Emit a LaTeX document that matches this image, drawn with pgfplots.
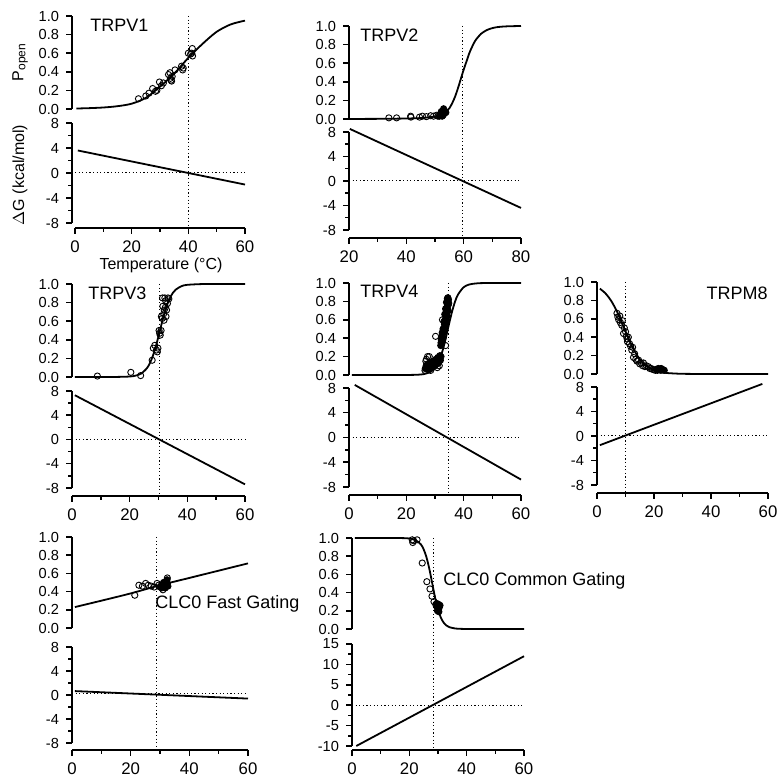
\documentclass[border=0pt]{standalone}
\usepackage{pgfplots}
\pgfplotsset{compat=1.18}
\usepackage{fontspec}
\setmainfont{Liberation Sans}
\setsansfont{Liberation Sans}
\newcommand{\yf}{\fontsize{7.3}{8}\selectfont}
\newcommand{\xf}{\fontsize{8.4}{9}\selectfont}
\newcommand{\tf}{\fontsize{9}{10}\selectfont}
\newcommand{\lf}{\fontsize{8}{9}\selectfont}
\pgfkeys{/pgf/number format/assume math mode=true}
\pgfplotsset{
  base/.style={scale only axis, clip=false, tick align=outside,
    major tick length=3pt, minor tick length=1.8pt,
    every tick/.append style={black, line width=0.75pt},
    axis line style={black, line width=0.85pt},
    /pgf/number format/assume math mode=true,
    yticklabel style={font=\yf},
    xticklabel style={font=\xf},
    xmin=0, xmax=60},
  ptop/.style={base, axis x line=none, axis y line*=left, xtick=\empty,
    ymin=0, ymax=1, ytick={0,0.2,0.4,0.6,0.8,1},
    yticklabel={\pgfmathprintnumber[fixed,fixed zerofill,precision=1,assume math mode=true]{\tick}}},
  pbot/.style={base, axis x line*=bottom, axis y line*=left,
    ymin=-8, ymax=8, ytick={-8,-4,0,4,8}, minor y tick num=1,
    xtick={0,20,40,60}, minor x tick num=1},
  crv/.style={black, line width=0.9pt, smooth, no markers},
  lin/.style={black, line width=0.9pt, no markers},
  dot/.style={black, line width=0.5pt, dash pattern=on 0.6pt off 1.2pt, no markers},
  opn/.style={only marks, mark=o, mark size=1.55pt, mark options={black, line width=0.45pt}},
  fil/.style={only marks, mark=*, mark size=1.55pt, mark options={black, fill=black, line width=0.45pt}},
}
\begin{document}
\begin{tikzpicture}
\useasboundingbox (0,0) rectangle (390pt,389.5pt);

% ================= TRPV1 =================
\begin{axis}[ptop, at={(37.5pt,335pt)}, anchor=south west, width=85pt, height=46.5pt, axis y line shift=1.5pt]
\addplot[opn] coordinates {(22.4,0.11)(25,0.14)(26.1,0.17)(27.4,0.22)(28.4,0.19)(28.9,0.2)(29.8,0.29)(30.5,0.25)(31.2,0.28)(33,0.37)(33.5,0.39)(33.9,0.31)(34.1,0.3)(34.3,0.35)(33.7,0.33)(35.3,0.42)(37.6,0.46)(38,0.42)(38.2,0.44)(40,0.6)(41.4,0.65)(41.5,0.57)(41.2,0.6)(40.8,0.59)};
\addplot[crv] coordinates {(0.5,0.005)(5,0.009)(10,0.016)(15,0.03)(20,0.057)(25,0.12)(30,0.24)(35,0.38)(40,0.55)(45,0.7)(50,0.83)(55,0.91)(60,0.95)};
\addplot[dot] coordinates {(40,1)(40,-1.28)};
\end{axis}
\begin{axis}[pbot, at={(37.5pt,278pt)}, anchor=south west, width=85pt, height=50pt, axis x line shift=2.5pt, axis y line shift=1.5pt]
\addplot[dot] coordinates {(0,0)(60,0)};
\addplot[lin] coordinates {(1,3.6)(60,-1.85)};
\end{axis}

% ================= TRPV2 =================
\begin{axis}[ptop, at={(174.5pt,330pt)}, anchor=south west, width=86pt, height=46.5pt, xmin=20, xmax=80]
\addplot[opn] coordinates {(33.9,0.012)(36.6,0.012)(41.5,0.03)(41.6,0.02)(44.6,0.02)(45.6,0.03)(47,0.025)(48.5,0.035)(49.5,0.03)(50.5,0.04)(51,0.03)};
\addplot[fil] coordinates {(51.5,0.03)(52,0.05)(52.5,0.07)(53,0.09)(53.3,0.06)(52.8,0.04)(53.5,0.08)(52.2,0.08)(53,0.11)(52.5,0.03)(53.8,0.07)};
\addplot[crv] coordinates {(20,0.0005)(30,0.0015)(40,0.005)(45,0.01)(48,0.018)(50,0.027)(52,0.045)(54,0.085)(55,0.115)(56,0.17)(57,0.24)(58,0.33)(59,0.43)(60,0.53)(61,0.62)(62,0.71)(63,0.78)(64,0.84)(65,0.88)(66,0.915)(68,0.955)(70,0.977)(72,0.989)(75,0.996)(80,1.0)};
\addplot[dot] coordinates {(59.7,1)(59.7,-1.28)};
\end{axis}
\begin{axis}[pbot, at={(174.5pt,274.5pt)}, anchor=south west, width=86pt, height=49pt, axis x line shift=4pt, xmin=20, xmax=80, xtick={20,40,60,80}]
\addplot[dot] coordinates {(20,0)(80,0)};
\addplot[lin] coordinates {(20.3,8.5)(80,-4.4)};
\end{axis}

% ================= TRPV3 =================
\begin{axis}[ptop, at={(36pt,201pt)}, anchor=south west, width=86.5pt, height=46.5pt]
\addplot[opn] coordinates {(8.8,0.01)(20.4,0.05)(23.8,0.015)(27.8,0.18)(28.2,0.31)(28.7,0.34)(29.3,0.29)(29.6,0.27)(29.8,0.31)(30.2,0.5)(30.4,0.47)(30.6,0.45)(30.9,0.5)(31,0.65)(31.3,0.63)(31.5,0.76)(31.8,0.68)(32,0.72)(32.2,0.85)(32.5,0.82)(32.6,0.65)(32.8,0.72)(33.1,0.79)(33.3,0.85)(33.6,0.84)(31.4,0.85)(31.9,0.61)(32.4,0.75)};
\addplot[crv] coordinates {(1,0)(10,0.0001)(15,0.0004)(20,0.005)(22,0.014)(24,0.037)(26,0.095)(27,0.148)(28,0.223)(29,0.321)(30,0.438)(31,0.562)(32,0.679)(33,0.777)(34,0.852)(35,0.905)(36,0.94)(38,0.977)(40,0.991)(45,0.999)(50,1)(60,1)};
\addplot[dot] coordinates {(30.2,1)(30.2,-1.28)};
\end{axis}
\begin{axis}[pbot, at={(36pt,145.5pt)}, anchor=south west, width=86.5pt, height=48.5pt, axis x line shift=4pt]
\addplot[dot] coordinates {(0,0)(60,0)};
\addplot[lin] coordinates {(1,7.3)(60,-7.4)};
\end{axis}

% ================= TRPV4 =================
\begin{axis}[ptop, at={(174.5pt,202pt)}, anchor=south west, width=86pt, height=46pt]
\addplot[opn] coordinates {(30.2,0.42)(33.7,0.32)(32.6,0.6)(27.4,0.2)(27,0.17)(28.5,0.05)(30.8,0.08)(31.5,0.1)(26.5,0.05)(26.8,0.15)(28,0.2)};
\addplot[fil] coordinates {(26.6,0.07)(26.9,0.1)(27.2,0.08)(27.4,0.12)(27.7,0.06)(27.9,0.09)(28.1,0.13)(28.3,0.07)(28.6,0.1)(28.8,0.13)(29,0.08)(29.3,0.15)(29.5,0.11)(29.8,0.14)(30,0.1)(30.3,0.17)(30.5,0.12)(30.8,0.15)(31,0.19)(31.2,0.13)(31.5,0.18)(31.7,0.21)(31.9,0.16)(32.1,0.2)
(32,0.32)(32.2,0.38)(32.4,0.35)(32.5,0.42)(32.7,0.45)(32.8,0.4)(33,0.5)(33.1,0.47)(33.3,0.55)(33.4,0.52)(33.5,0.6)(33.6,0.57)(33.8,0.65)(33.9,0.62)(34,0.7)(34.1,0.67)(34.2,0.74)(34.3,0.72)(34.4,0.78)(34.5,0.8)(34.6,0.76)(34.7,0.82)(34.5,0.84)(34.3,0.83)(34,0.79)(33.7,0.72)(33.4,0.66)(33.1,0.58)(32.8,0.5)(32.5,0.46)(32.3,0.4)(32.1,0.35)(34.8,0.78)(34.6,0.7)(34.2,0.64)(33.9,0.57)};
\addplot[crv] coordinates {(1,0)(10,0)(20,0.0003)(24,0.003)(26,0.0093)(28,0.027)(29,0.046)(30,0.078)(31,0.127)(32,0.2)(33,0.305)(34,0.432)(35,0.568)(36,0.695)(37,0.798)(38,0.873)(40,0.954)(42,0.984)(45,0.997)(50,1)(60,1)};
\addplot[dot] coordinates {(34.7,1)(34.7,-1.30)};
\end{axis}
\begin{axis}[pbot, at={(174.5pt,146pt)}, anchor=south west, width=86pt, height=49.5pt, axis x line shift=4pt]
\addplot[dot] coordinates {(0,0)(60,0)};
\addplot[lin] coordinates {(2,8.5)(60,-6.8)};
\end{axis}

% ================= TRPM8 =================
\begin{axis}[ptop, at={(298.5pt,202.5pt)}, anchor=south west, width=85.5pt, height=46pt]
\addplot[opn] coordinates {(7,0.66)(7.3,0.62)(7.6,0.59)(8,0.63)(8.2,0.56)(8.7,0.53)(8.9,0.58)(9.3,0.44)(9.6,0.5)(10,0.46)(10.3,0.41)(10.6,0.38)(10.7,0.35)(11,0.4)(11.4,0.33)(11.8,0.3)(12.2,0.26)(12.5,0.29)(12.8,0.18)(13.2,0.22)(13.6,0.16)(14,0.14)(14.6,0.15)(15,0.11)(15.5,0.12)(16,0.09)(16.3,0.12)(16.8,0.08)(17.3,0.09)(18,0.08)(18.5,0.06)(19,0.06)(19.5,0.05)(20,0.045)(20.5,0.04)};
\addplot[fil] coordinates {(20.8,0.05)(21.2,0.04)(21.6,0.05)(22,0.045)(22.4,0.04)(22.8,0.05)(23.2,0.045)(23.6,0.04)(21.5,0.06)(22.5,0.06)};
\addplot[crv] coordinates {(1,0.928)(3,0.875)(5,0.794)(7,0.679)(9,0.537)(11,0.389)(13,0.259)(15,0.161)(17,0.095)(19,0.055)(21,0.031)(23,0.017)(25,0.0094)(30,0.002)(40,0.0001)(60,0)};
\addplot[dot] coordinates {(9.9,1)(9.9,-1.29)};
\end{axis}
\begin{axis}[pbot, at={(298.5pt,147pt)}, anchor=south west, width=85.5pt, height=49pt, axis x line shift=4pt]
\addplot[dot] coordinates {(0,0)(60,0)};
\addplot[lin] coordinates {(1,-1.5)(58,8.5)};
\end{axis}

% ================= CLC0 Fast =================
\begin{axis}[ptop, at={(36pt,75.5pt)}, anchor=south west, width=88pt, height=45.5pt]
\addplot[opn] coordinates {(21.4,0.36)(22.8,0.47)(24,0.46)(25.1,0.49)(26,0.47)(27,0.46)(28,0.45)(29,0.49)(29.5,0.47)(30,0.45)(31,0.42)(32.5,0.55)};
\addplot[fil] coordinates {(30.2,0.46)(30.6,0.44)(31,0.47)(31.3,0.45)(31.6,0.49)(31.9,0.47)(32.2,0.51)(32.5,0.49)(32.7,0.46)(32.4,0.53)(31.8,0.44)(31.2,0.5)};
\addplot[crv] coordinates {(1,0.23)(10,0.3)(20,0.38)(30,0.47)(40,0.55)(50,0.63)(60,0.71)};
\addplot[dot] coordinates {(28.9,1)(28.9,-1.34)};
\end{axis}
\begin{axis}[pbot, at={(36pt,18pt)}, anchor=south west, width=88pt, height=48pt, axis x line shift=3.5pt]
\addplot[dot] coordinates {(0,0.2)(60,0.2)};
\addplot[lin] coordinates {(1,0.65)(60,-0.6)};
\end{axis}

% ================= CLC0 Common =================
\begin{axis}[ptop, at={(176pt,75pt)}, anchor=south west, width=86pt, height=45.5pt]
\addplot[opn] coordinates {(21,0.98)(21.2,0.95)(21.5,0.97)(22.7,0.98)(24.5,0.725)(26.1,0.52)(27.2,0.44)(27.9,0.36)(28.6,0.3)(29.2,0.27)};
\addplot[fil] coordinates {(29.5,0.25)(30,0.22)(30.5,0.24)(29.8,0.2)(30.3,0.19)(30.7,0.26)(29.6,0.28)(30.2,0.27)};
\addplot[crv] coordinates {(1,1)(10,1)(15,0.9998)(18,0.9985)(20,0.9945)(22,0.98)(24,0.931)(25,0.875)(26,0.786)(27,0.657)(28,0.5)(29,0.343)(30,0.214)(31,0.1245)(32,0.069)(33,0.037)(34,0.0198)(36,0.0055)(38,0.0015)(40,0.0004)(45,0)(60,0)};
\addplot[dot] coordinates {(28.4,1)(28.4,-1.33)};
\end{axis}
\begin{axis}[pbot, at={(176pt,16.5pt)}, anchor=south west, width=86pt, height=51pt, axis x line shift=2pt, ymin=-10, ymax=15, ytick={-10,-5,0,5,10,15}]
\addplot[dot] coordinates {(0,0)(60,0)};
\addplot[lin] coordinates {(1.5,-10)(60,12)};
\end{axis}

% ================= text =================
\node[font=\tf, anchor=base west, inner sep=0] at (45pt,373.5pt) {TRPV1};
\node[font=\tf, anchor=base west, inner sep=0] at (180pt,368.5pt) {TRPV2};
\node[font=\tf, anchor=base west, inner sep=0] at (44pt,239.5pt) {TRPV3};
\node[font=\tf, anchor=base west, inner sep=0] at (180pt,240.5pt) {TRPV4};
\node[font=\tf, anchor=base east, inner sep=0] at (384pt,239.5pt) {TRPM8};
\node[font=\tf, anchor=base west, inner sep=0] at (77.5pt,85pt) {CLC0 Fast Gating};
\node[font=\tf, anchor=base west, inner sep=0] at (221.5pt,96.5pt) {CLC0 Common Gating};
\node[font=\lf, rotate=90, inner sep=0] at (10pt,358.5pt) {P\textsubscript{open}};
\node[font=\lf, rotate=90, inner sep=0] at (10pt,302pt) {$\Delta$G (kcal/mol)};
\node[font=\lf, inner sep=0] at (80.5pt,257pt) {Temperature (°C)};
\end{tikzpicture}
\end{document}
